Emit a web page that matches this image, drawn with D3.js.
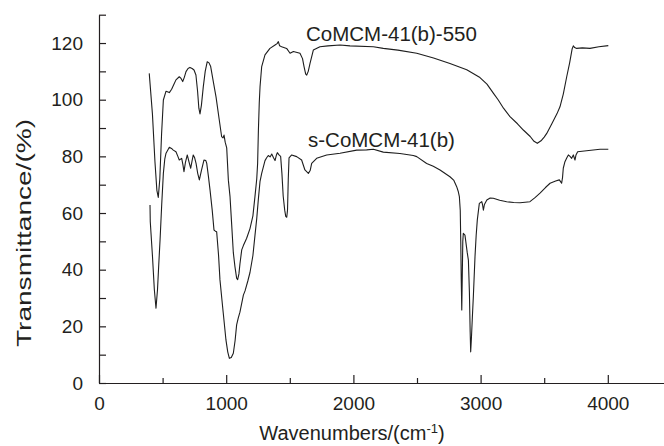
<!DOCTYPE html>
<html>
<head>
<meta charset="utf-8">
<script src="https://cdn.jsdelivr.net/npm/d3@7"></script>
<style>
  body { margin: 0; background: #fff; }
  svg { display: block; }
  text { font-family: "Liberation Sans", Arial, Helvetica, sans-serif; fill: #231f20; }
</style>
</head>
<body>
<svg id="chart" width="664" height="446"></svg>
<script>
// FT-IR spectra: wavenumber (cm^-1) and transmittance (%)
const calcinedWavenumbers = [395, 420, 440, 455, 466, 478, 492, 506, 527, 553, 571, 590, 605, 631, 645, 658, 670, 684, 700, 715, 732, 747, 762, 775, 785, 794, 805, 820, 835, 851, 865, 878, 900, 920, 945, 964, 975, 983, 992, 1004, 1017, 1030, 1043, 1056, 1069, 1082, 1090, 1100, 1108, 1122, 1135, 1160, 1187, 1210, 1226, 1240, 1247, 1253, 1260, 1266, 1279, 1305, 1344, 1384, 1400, 1410, 1420, 1436, 1475, 1502, 1528, 1580, 1600, 1612, 1625, 1633, 1645, 1659, 1685, 1737, 1800, 1895, 1973, 2157, 2235, 2350, 2498, 2630, 2759, 2891, 2995, 3050, 3100, 3139, 3180, 3231, 3290, 3336, 3390, 3420, 3446, 3475, 3500, 3520, 3560, 3600, 3624, 3650, 3677, 3700, 3720, 3729, 3740, 3755, 3800, 3860, 3930, 4004];
const calcinedTransmittance = [109.3, 95, 78, 68, 65.5, 72, 88, 99.9, 103, 102.5, 103.7, 105.5, 107, 108.1, 107.5, 106.4, 107.8, 109.9, 111, 111.4, 111, 110.5, 108.7, 103, 97, 95, 98, 104.6, 110, 113.4, 113, 111.7, 106, 101, 93, 87, 86.5, 87.5, 85, 83, 71.6, 65.8, 56, 46, 41, 37, 36.5, 38.5, 42, 47, 48.5, 51, 54.5, 59, 65.8, 72, 77.5, 89, 99, 104.6, 111.7, 115.8, 118.1, 119.3, 119.8, 120.5, 119, 118.7, 118.1, 116.4, 117, 116.4, 114.5, 111.7, 109, 108.7, 110, 112.8, 117.5, 118.7, 119, 119.3, 119, 118.7, 118.1, 117.5, 116.4, 114.7, 112.8, 110.6, 107.8, 105.5, 102.3, 99.9, 97, 94, 91.5, 89.3, 87, 85.3, 84.6, 85.5, 86.8, 88.1, 91.5, 95, 97.5, 102, 108.1, 113, 118, 119, 118.4, 118.1, 118.3, 118.1, 118.7, 119.1];

const assynthWavenumbers = [401, 403, 420, 435, 448, 460, 470, 480, 493, 506, 517, 527, 553, 570, 584, 605, 620, 631, 650, 660, 668, 680, 694, 708, 721, 732, 741, 752, 763, 776, 789, 805, 825, 840, 847, 860, 873, 890, 904, 915, 925, 940, 951, 965, 977, 998, 1012, 1025, 1040, 1056, 1070, 1082, 1095, 1108, 1135, 1148, 1170, 1187, 1210, 1226, 1240, 1253, 1266, 1279, 1305, 1318, 1331, 1345, 1358, 1372, 1384, 1395, 1402, 1415, 1428, 1438, 1448, 1460, 1468, 1476, 1482, 1488, 1494, 1515, 1554, 1593, 1619, 1646, 1660, 1672, 1711, 1790, 1895, 2026, 2104, 2157, 2235, 2366, 2471, 2498, 2576, 2628, 2681, 2759, 2790, 2812, 2825, 2833, 2840, 2844, 2848, 2852, 2856, 2860, 2864, 2877, 2895, 2904, 2912, 2918, 2922, 2928, 2936, 2943, 2956, 2965, 2974, 2990, 3009, 3015, 3022, 3030, 3049, 3075, 3100, 3150, 3205, 3260, 3310, 3350, 3388, 3430, 3467, 3510, 3546, 3590, 3619, 3630, 3637, 3644, 3650, 3663, 3678, 3690, 3703, 3716, 3729, 3736, 3742, 3750, 3763, 3833, 3939, 4004];
const assynthTransmittance = [62.8, 57, 45, 33, 26.4, 33, 42, 50.5, 63, 74, 79, 81.1, 83.2, 82.8, 82.2, 81.6, 80, 78.7, 79.3, 77, 74.6, 78, 80.5, 78, 75.8, 78.5, 80.5, 79.5, 77.5, 74, 71.7, 75, 78.7, 78.5, 77.5, 73, 68.1, 61, 54, 53.6, 53.4, 45, 36.4, 30, 24.6, 15.2, 11, 8.7, 9, 10.5, 15, 20.5, 23, 25, 31, 32.5, 36, 39, 45, 52, 58, 65, 71.2, 74, 78.5, 79.5, 80.3, 79.8, 80.8, 79.5, 78.5, 80.5, 81.3, 80.5, 80, 74, 66, 61, 58.8, 58.5, 61, 72, 79.5, 80.5, 79.9, 78.7, 75.2, 74, 75, 77.5, 79.3, 80.5, 81.1, 82.2, 82.3, 82.5, 81.5, 81, 80.3, 79.9, 77.5, 76.5, 75.2, 72.8, 71.5, 69.3, 67.5, 65.8, 61, 50, 36, 25.8, 38, 50, 52.8, 52.2, 46, 43.4, 32, 18, 11, 16, 24, 30.5, 44.6, 52, 57.5, 63.4, 64, 63, 61, 63, 64.6, 65.3, 65.2, 64.5, 64, 63.7, 63.6, 63.8, 64, 65.5, 67, 69, 70.5, 71.3, 71.7, 71, 70.5, 72.5, 75.8, 78.1, 79.5, 80.5, 80, 79.3, 80.5, 79.5, 78.7, 80.5, 81.6, 82, 82.5, 82.5];

const seriesNames = ["CoMCM-41(b)-550", "s-CoMCM-41(b)"];
const xMajorTicks = [0, 1000, 2000, 3000, 4000];
const xMinorTicks = [500, 1500, 2500, 3500];
const yTicks = [0, 10, 20, 30, 40, 50, 60, 70, 80, 90, 100, 110, 120, 130];
const yLabelTicks = [0, 20, 40, 60, 80, 100, 120];

const svg = d3.select("#chart");
const x = d3.scaleLinear().domain([0, 4500]).range([99, 671.4]);
const y = d3.scaleLinear().domain([0, 130]).range([383, 14.7]);

const ink = "#231f20";

// x axis: labelled ticks every 1000, short unlabelled ticks in between
svg.append("g").attr("transform", `translate(0,${y(0)})`)
  .call(d3.axisBottom(x).tickValues(xMajorTicks).tickSize(-8).tickSizeOuter(0).tickPadding(14)
    .tickFormat(d3.format("d")));
svg.append("g").attr("transform", `translate(0,${y(0)})`)
  .call(d3.axisBottom(x).tickValues(xMinorTicks).tickSize(-5).tickSizeOuter(0).tickFormat(""))
  .select(".domain").remove();

// y axis: ticks every 10, labels every 20
svg.append("g").attr("transform", `translate(${x(0)},0)`)
  .call(d3.axisLeft(y).tickValues(yTicks).tickSize(-7).tickSizeOuter(0).tickPadding(16)
    .tickFormat(d => yLabelTicks.includes(d) ? d : ""));

svg.selectAll(".domain, .tick line").attr("stroke", ink).attr("stroke-width", 1.2);
svg.selectAll(".tick text").attr("font-size", 19).attr("fill", ink)
  .style("font-family", '"Liberation Sans", Arial, sans-serif');

// spectra
const line = d3.line().x(d => x(d[0])).y(d => y(d[1]));
const calcined = d3.zip(calcinedWavenumbers, calcinedTransmittance);
const assynth = d3.zip(assynthWavenumbers, assynthTransmittance);
[calcined, assynth].forEach(data => {
  svg.append("path").datum(data)
    .attr("d", line)
    .attr("fill", "none")
    .attr("stroke", "#1e1e1e")
    .attr("stroke-width", 1.1)
    .attr("stroke-linejoin", "round");
});

// curve labels
svg.append("text").attr("x", 306).attr("y", 41).attr("font-size", 20.5).text(seriesNames[0]);
svg.append("text").attr("x", 308).attr("y", 147).attr("font-size", 20.5).text(seriesNames[1]);

// axis titles
const xt = svg.append("text").attr("x", 352).attr("y", 440).attr("text-anchor", "middle").attr("font-size", 20);
xt.append("tspan").text("Wavenumbers/(cm");
xt.append("tspan").attr("dy", -7).attr("font-size", 13).text("-1");
xt.append("tspan").attr("dy", 7).text(")");

svg.append("text")
  .attr("transform", "translate(31,233) rotate(-90)")
  .attr("text-anchor", "middle")
  .attr("font-size", 20)
  .attr("textLength", 228)
  .attr("lengthAdjust", "spacingAndGlyphs")
  .text("Transmittance/(%)");
</script>
</body>
</html>
